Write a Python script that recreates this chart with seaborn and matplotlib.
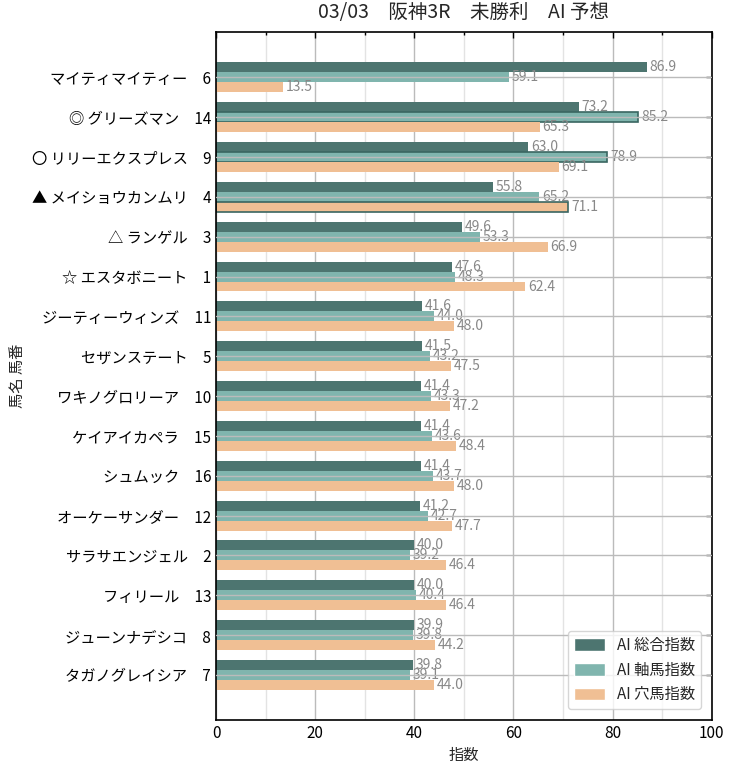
import matplotlib
matplotlib.use("Agg")
import matplotlib.pyplot as plt
from matplotlib.ticker import MultipleLocator
import seaborn as sns
import pandas as pd

names = ["マイティマイティー", "◎ グリーズマン", "〇 リリーエクスプレス", "▲ メイショウカンムリ",
         "△ ランゲル", "☆ エスタボニート", "ジーティーウィンズ", "セザンステート",
         "ワキノグロリーア", "ケイアイカペラ", "シュムック", "オーケーサンダー",
         "サラサエンジェル", "フィリール", "ジューンナデシコ", "タガノグレイシア"]
numbers = [6, 14, 9, 4, 3, 1, 11, 5, 10, 15, 16, 12, 2, 13, 8, 7]
sogo = [86.9, 73.2, 63.0, 55.8, 49.6, 47.6, 41.6, 41.5, 41.4, 41.4, 41.4, 41.2, 40.0, 40.0, 39.9, 39.8]
jiku = [59.1, 85.2, 78.9, 65.2, 53.3, 48.3, 44.0, 43.2, 43.3, 43.6, 43.7, 42.7, 39.2, 40.4, 39.8, 39.1]
ana = [13.5, 65.3, 69.1, 71.1, 66.9, 62.4, 48.0, 47.5, 47.2, 48.4, 48.0, 47.7, 46.4, 46.4, 44.2, 44.0]
series_names = ["AI 総合指数", "AI 軸馬指数", "AI 穴馬指数"]
colors = ["#4d7570", "#80b5ae", "#f0bf94"]
# highlighted bars: (series index, row index)
highlight = [(1, 1), (1, 2), (2, 3)]

labels = [f"{n}　{k}" for n, k in zip(names, numbers)]
rows = []
for s, vals in zip(series_names, [sogo, jiku, ana]):
    for lab, v in zip(labels, vals):
        rows.append({"label": lab, "value": v, "series": s})
df = pd.DataFrame(rows)

sns.set_theme(style="white")
plt.rcParams["font.family"] = ["Noto Sans CJK JP", "DejaVu Sans"]

fig = plt.figure(figsize=(7.36, 7.70), dpi=100)
ax = fig.add_axes([0.2935, 0.065, 0.6735, 0.893])

sns.barplot(data=df, y="label", x="value", hue="series", orient="h",
            palette=colors, width=0.75, ax=ax, order=labels,
            hue_order=series_names, zorder=2, saturation=1)

for si, cont in enumerate(ax.containers):
    for ri, p in enumerate(cont.patches):
        if (si, ri) in highlight:
            p.set_edgecolor("#3a6661")
            p.set_linewidth(1.2)
        else:
            p.set_linewidth(0)
    ax.bar_label(cont, fmt="%.1f", padding=2, color="#888888", fontsize=10)

ax.set_xlim(0, 100)
ax.set_ylim(len(labels) - 1 + 1.13, -1.13)
ax.xaxis.set_major_locator(MultipleLocator(20))
ax.xaxis.set_minor_locator(MultipleLocator(10))
ax.tick_params(axis="both", which="both", direction="in", top=True, right=True,
               length=4, width=1, labelsize=11, colors="black")
ax.tick_params(axis="x", which="minor", length=2.5)
ax.grid(axis="x", which="major", color="#bbbbbb", linewidth=1, zorder=0)
ax.grid(axis="x", which="minor", color="#e3e3e3", linewidth=1, zorder=0)
ax.set_axisbelow(True)
for y in range(len(labels)):
    ax.axhline(y, color="#bbbbbb", linewidth=1, zorder=3)

for sp in ax.spines.values():
    sp.set_color("black")
    sp.set_linewidth(1.2)

ax.set_xlabel("指数", fontsize=11)
ax.set_ylabel("馬名 馬番", fontsize=11)
ax.set_title("03/03　阪神3R　未勝利　AI 予想", fontsize=14, pad=10)

leg = ax.legend(loc="lower right", fontsize=11, frameon=True, fancybox=True,
                handlelength=2.0, handleheight=0.9, borderaxespad=0.7)
leg.get_frame().set_edgecolor("#cccccc")

fig.savefig("out.png", dpi=100)
